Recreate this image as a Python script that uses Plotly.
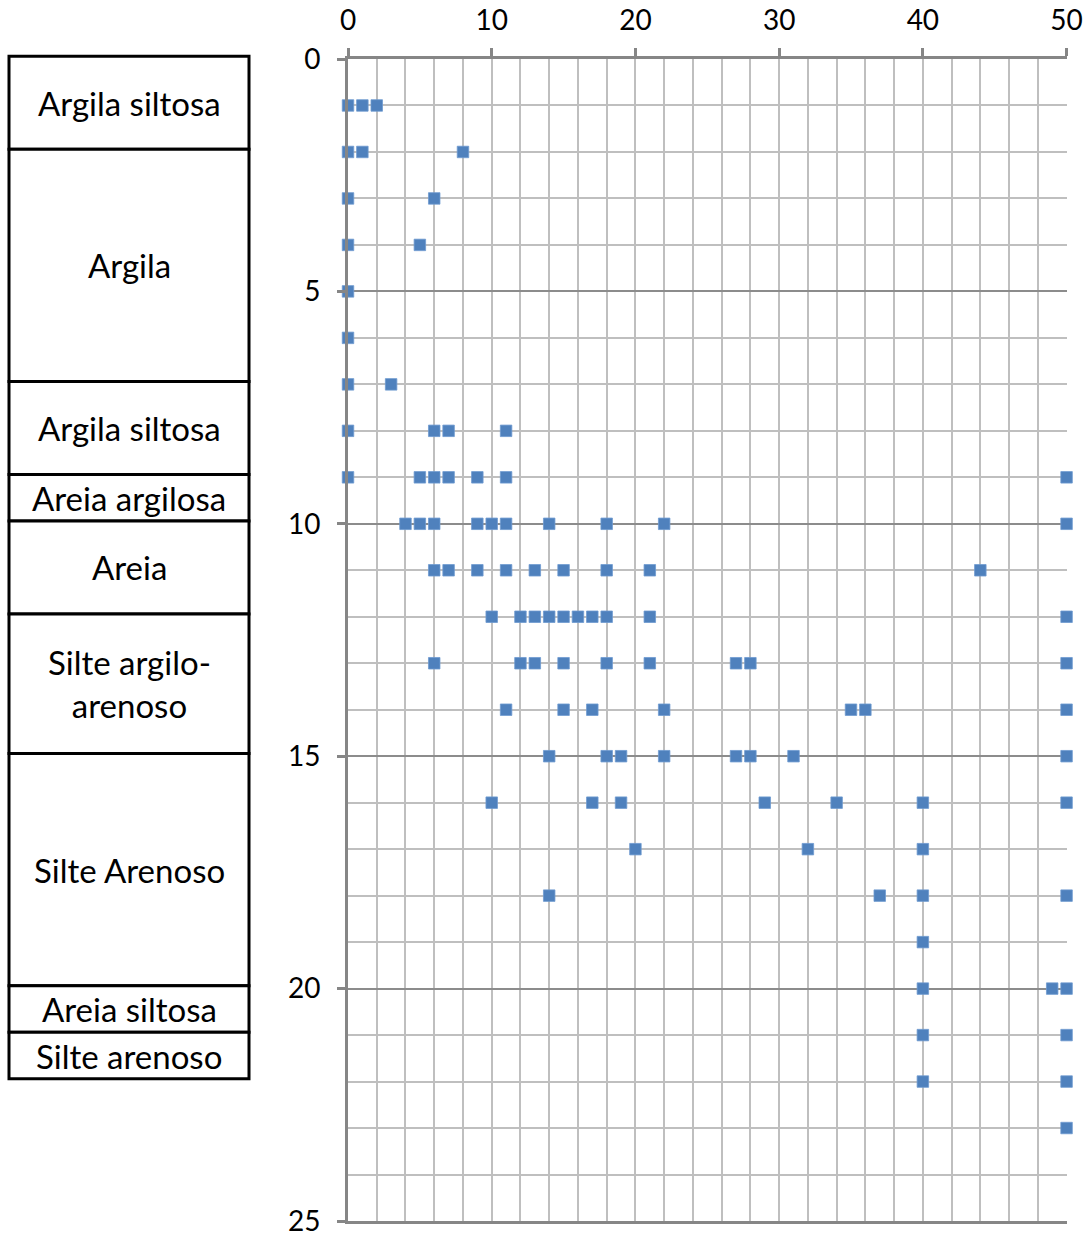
import plotly.graph_objects as go

# Depth (m) of each reading and the measured value at that depth
profundidade = [
    1, 1, 1,
    2, 2, 2,
    3, 3,
    4, 4,
    5,
    6,
    7, 7,
    8, 8, 8, 8,
    9, 9, 9, 9, 9, 9, 9,
    10, 10, 10, 10, 10, 10, 10, 10, 10, 10,
    11, 11, 11, 11, 11, 11, 11, 11, 11,
    12, 12, 12, 12, 12, 12, 12, 12, 12, 12,
    13, 13, 13, 13, 13, 13, 13, 13, 13,
    14, 14, 14, 14, 14, 14, 14,
    15, 15, 15, 15, 15, 15, 15, 15,
    16, 16, 16, 16, 16, 16, 16,
    17, 17, 17,
    18, 18, 18, 18,
    19,
    20, 20, 20,
    21, 21,
    22, 22,
    23,
]
valores = [
    0, 1, 2,
    0, 1, 8,
    0, 6,
    0, 5,
    0,
    0,
    0, 3,
    0, 6, 7, 11,
    0, 5, 6, 7, 9, 11, 50,
    4, 5, 6, 9, 10, 11, 14, 18, 22, 50,
    6, 7, 9, 11, 13, 15, 18, 21, 44,
    10, 12, 13, 14, 15, 16, 17, 18, 21, 50,
    6, 12, 13, 15, 18, 21, 27, 28, 50,
    11, 15, 17, 22, 35, 36, 50,
    14, 18, 19, 22, 27, 28, 31, 50,
    10, 17, 19, 29, 34, 40, 50,
    20, 32, 40,
    14, 37, 40, 50,
    40,
    40, 49, 50,
    40, 50,
    40, 50,
    50,
]

# Soil profile layers (top and bottom depth of each layer)
camadas = [
    "Argila siltosa", "Argila", "Argila siltosa", "Areia argilosa", "Areia",
    "Silte argilo-<br>arenoso", "Silte Arenoso", "Areia siltosa", "Silte arenoso",
]
topo = [0, 2, 7, 9, 10, 12, 15, 20, 21]
base = [2, 7, 9, 10, 12, 15, 20, 21, 22]

eixo_x_ticks = [0, 10, 20, 30, 40, 50]
eixo_y_ticks = [0, 5, 10, 15, 20, 25]

X_MIN, X_MAX = 0, 50
Y_MIN, Y_MAX = 0, 25

W, H = 1090, 1236
ML, MR, MT, MB = 348, 23, 59, 15
plot_w = W - ML - MR


def px_to_paper_x(px):
    return (px - ML) / plot_w


def depth_to_paper_y(d):
    # depth axis runs downward: Y_MIN at the top edge, Y_MAX at the bottom
    return (Y_MAX - d) / (Y_MAX - Y_MIN)


FONT = "Lato"
AXIS_GRAY = "#868686"
MAJOR_GRAY = "#8C8C8C"
MINOR_GRAY = "#BFBFBF"

fig = go.Figure()
fig.add_trace(go.Scatter(
    x=valores, y=profundidade, mode="markers",
    marker=dict(symbol="square", size=11.5, color="#4F81BD",
                line=dict(width=0.8, color="#6F9AD0")),
    cliponaxis=False, showlegend=False, hoverinfo="x+y",
))

# Soil profile column drawn beside the depth axis
col_x0 = px_to_paper_x(9)
col_x1 = px_to_paper_x(249)
col_xc = px_to_paper_x(129)
shift = 0.06
for nome, t, b in zip(camadas, topo, base):
    fig.add_shape(type="rect", xref="paper", yref="paper",
                  x0=col_x0, x1=col_x1,
                  y0=depth_to_paper_y(t - shift), y1=depth_to_paper_y(b - shift),
                  line=dict(color="black", width=3), fillcolor="white",
                  layer="above")
    fig.add_annotation(xref="paper", yref="paper", x=col_xc,
                       y=depth_to_paper_y((t + b) / 2 - shift),
                       text=nome, showarrow=False,
                       font=dict(family=FONT, size=33, color="black"),
                       align="center", xanchor="center", yanchor="middle")

fig.update_xaxes(
    side="top", range=[X_MIN, X_MAX + 0.03], tickvals=eixo_x_ticks,
    showline=True, linecolor=AXIS_GRAY, linewidth=3, mirror=True,
    ticks="outside", ticklen=8, tickcolor=AXIS_GRAY, tickwidth=2.5,
    showgrid=True, gridcolor=MINOR_GRAY, gridwidth=2,
    minor=dict(dtick=2, showgrid=True, gridcolor=MINOR_GRAY, gridwidth=2),
    zeroline=False, tickfont=dict(family=FONT, size=28, color="black"),
    ticklabelstandoff=7, automargin=False, ticklabeloverflow="allow",
)
fig.update_yaxes(
    range=[Y_MAX, Y_MIN], tickvals=eixo_y_ticks,
    showline=True, linecolor=AXIS_GRAY, linewidth=3,
    ticks="outside", ticklen=8, tickcolor=AXIS_GRAY, tickwidth=2.5,
    showgrid=True, gridcolor=MAJOR_GRAY, gridwidth=2,
    minor=dict(dtick=1, showgrid=True, gridcolor=MINOR_GRAY, gridwidth=2),
    zeroline=False, tickfont=dict(family=FONT, size=28, color="black"),
    ticklabelstandoff=11, automargin=False, ticklabeloverflow="allow",
)

fig.update_layout(
    width=W, height=H,
    margin=dict(l=ML, r=MR, t=MT, b=MB),
    paper_bgcolor="white", plot_bgcolor="white",
    font=dict(family=FONT, color="black"),
)

fig.write_html("out.html")
